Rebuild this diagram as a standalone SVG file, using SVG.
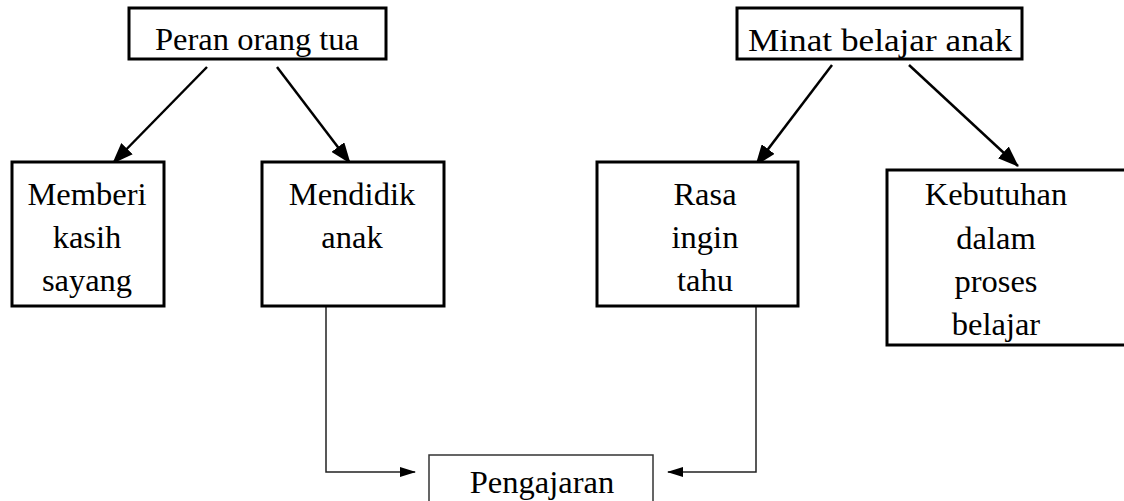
<svg xmlns="http://www.w3.org/2000/svg" width="1124" height="501" viewBox="0 0 1124 501">
<style>
.box{fill:#fff;stroke:#000;stroke-width:3}
.thin{fill:#fff;stroke:#333;stroke-width:1.5}
text{font-family:"Liberation Serif","Times New Roman",serif;font-size:32.5px;fill:#000;text-anchor:middle}
.c{fill:none;stroke:#000;stroke-width:2.5}
.c2{fill:none;stroke:#222;stroke-width:1.5}
</style>
<defs>
<marker id="ah" markerUnits="userSpaceOnUse" markerWidth="22" markerHeight="16" refX="20" refY="8" orient="auto"><path d="M0,0 L21,8 L0,16 Z" fill="#000"/></marker>
<marker id="as" markerUnits="userSpaceOnUse" markerWidth="16" markerHeight="10" refX="15" refY="5" orient="auto"><path d="M0,0 L16,5 L0,10 Z" fill="#000"/></marker>
</defs>
<rect width="1124" height="501" fill="#fff"/>
<g id="connectors">
<line class="c" x1="207" y1="67" x2="113" y2="163" marker-end="url(#ah)"/>
<line class="c" x1="277" y1="67" x2="350" y2="163" marker-end="url(#ah)"/>
<line class="c" x1="832" y1="65" x2="756" y2="165" marker-end="url(#ah)"/>
<line class="c" x1="909" y1="65" x2="1018" y2="166" marker-end="url(#ah)"/>
<polyline class="c2" points="326,306 326,472 415,472" marker-end="url(#as)"/>
<polyline class="c2" points="756,306 756,472 668,472" marker-end="url(#as)"/>
</g>
<g id="peran"><rect class="box" x="129" y="8" width="257" height="51"/><text x="257" y="50">Peran orang tua</text></g>
<g id="minat"><rect class="box" x="737" y="8" width="285" height="51"/><text x="880" y="51" textLength="264" lengthAdjust="spacingAndGlyphs">Minat belajar anak</text></g>
<g id="memberi"><rect class="box" x="12" y="162" width="152" height="144"/><text x="87" y="205">Memberi</text><text x="87" y="248">kasih</text><text x="87" y="291">sayang</text></g>
<g id="mendidik"><rect class="box" x="262" y="162" width="182" height="144"/><text x="352" y="205">Mendidik</text><text x="352" y="248">anak</text></g>
<g id="rasa"><rect class="box" x="597" y="162" width="201" height="144"/><text x="705" y="205">Rasa</text><text x="705" y="248">ingin</text><text x="705" y="291">tahu</text></g>
<g id="kebutuhan"><rect class="box" x="887" y="170" width="270" height="175"/><text x="996" y="205">Kebutuhan</text><text x="996" y="249">dalam</text><text x="996" y="292">proses</text><text x="996" y="335">belajar</text></g>
<g id="pengajaran"><rect class="thin" x="429" y="455" width="224" height="60"/><text x="542" y="493">Pengajaran</text></g>
</svg>
